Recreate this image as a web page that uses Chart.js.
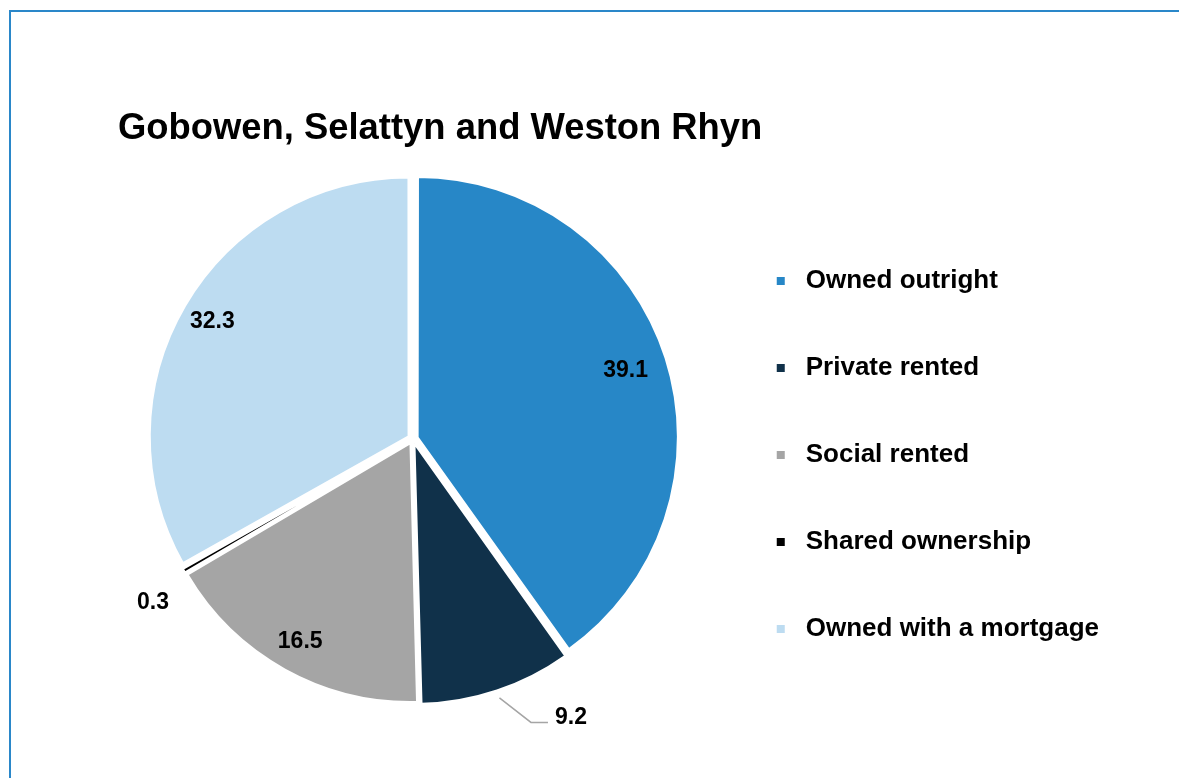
<!DOCTYPE html>
<html>
<head>
<meta charset="utf-8">
<script src="https://cdn.jsdelivr.net/npm/chart.js@4.4.1/dist/chart.umd.min.js"></script>
<style>
  html, body { margin: 0; padding: 0; background: #fff; overflow: hidden; }
  #frame { position: absolute; left: 9px; top: 10px; width: 1200px; height: 800px; border: 2px solid #2a87c9; }
  #wrap { position: absolute; left: 0; top: 0; width: 1179px; height: 778px; }
</style>
</head>
<body>
<div id="frame"></div>
<div id="wrap"><canvas id="pie"></canvas></div>
<script>
const chartTitle = "Gobowen, Selattyn and Weston Rhyn";
const tenures = ["Owned outright", "Private rented", "Social rented", "Shared ownership", "Owned with a mortgage"];
const shares = [39.1, 9.2, 16.5, 0.3, 32.3];
const colours = ["#2787c7", "#10314a", "#a5a5a5", "#000000", "#bddcf1"];
// where each value label goes: inside the slice, outside, or outside with a leader line
const labelModes = ["in", "leader", "in", "out", "in"];
// exploded pie: how far each slice is pulled out
const explode = [20, 20, 20, 12, 20];

const FONT = "'Liberation Sans', Arial, sans-serif";

// small plugin: writes the values on the slices
const valueLabels = {
  id: "valueLabels",
  afterDatasetsDraw(chart) {
    const ctx = chart.ctx;
    const meta = chart.getDatasetMeta(0);
    ctx.save();
    ctx.font = "bold 23px " + FONT;
    ctx.fillStyle = "#000";
    meta.data.forEach((arc, i) => {
      const p = arc.getProps(["x", "y", "startAngle", "endAngle", "outerRadius"], true);
      const mid = (p.startAngle + p.endAngle) / 2;
      const r = p.outerRadius;
      const txt = shares[i].toFixed(1);
      const mode = labelModes[i];
      if (mode === "in") {
        const k = i === 0 ? 0.865 : 0.9;
        ctx.textAlign = "center";
        ctx.textBaseline = "middle";
        ctx.fillText(txt, p.x + Math.cos(mid) * r * k, p.y + Math.sin(mid) * r * k);
      } else if (mode === "out") {
        const a = mid - 0.04;
        ctx.textAlign = "center";
        ctx.textBaseline = "middle";
        ctx.fillText(txt, p.x + Math.cos(a) * r * 1.19, p.y + Math.sin(a) * r * 1.19);
      } else {
        const a2 = mid - 0.072;
        const x0 = p.x + Math.cos(mid) * (r + 15), y0 = p.y + Math.sin(mid) * (r + 15);
        const x1 = p.x + Math.cos(a2) * r * 1.19, y1 = p.y + Math.sin(a2) * r * 1.19;
        const x2 = x1 + 17;
        ctx.strokeStyle = "#a5a5a5";
        ctx.lineWidth = 1.5;
        ctx.beginPath();
        ctx.moveTo(x0, y0);
        ctx.lineTo(x1, y1);
        ctx.lineTo(x2, y1);
        ctx.stroke();
        ctx.textAlign = "left";
        ctx.textBaseline = "middle";
        ctx.fillText(txt, x2 + 7, y1 - 5);
      }
    });
    ctx.restore();
  }
};

new Chart(document.getElementById("pie"), {
  type: "pie",
  data: {
    labels: tenures,
    datasets: [{
      data: shares,
      backgroundColor: colours,
      borderColor: "#ffffff",
      borderWidth: 2,
      offset: explode,
    }],
  },
  plugins: [valueLabels],
  options: {
    responsive: true,
    maintainAspectRatio: false,
    animation: false,
    events: [],
    layout: { padding: { left: 118, right: 70, top: 0, bottom: 70 } },
    plugins: {
      tooltip: { enabled: false },
      title: {
        display: true,
        text: chartTitle,
        align: "start",
        color: "#000",
        font: { family: FONT, size: 36.4, weight: "bold" },
        padding: { top: 107, bottom: 19 },
      },
      legend: {
        position: "right",
        align: "start",
        // empty legend title only pushes the entries down
        title: { display: true, text: "", font: { size: 10 }, padding: { top: 195, bottom: 0 } },
        labels: {
          color: "#000",
          font: { family: FONT, size: 26, weight: "bold" },
          usePointStyle: true,
          pointStyle: "rect",
          boxWidth: 24,
          boxHeight: 10,
          padding: 61,
        },
      },
    },
  },
});
</script>
</body>
</html>
